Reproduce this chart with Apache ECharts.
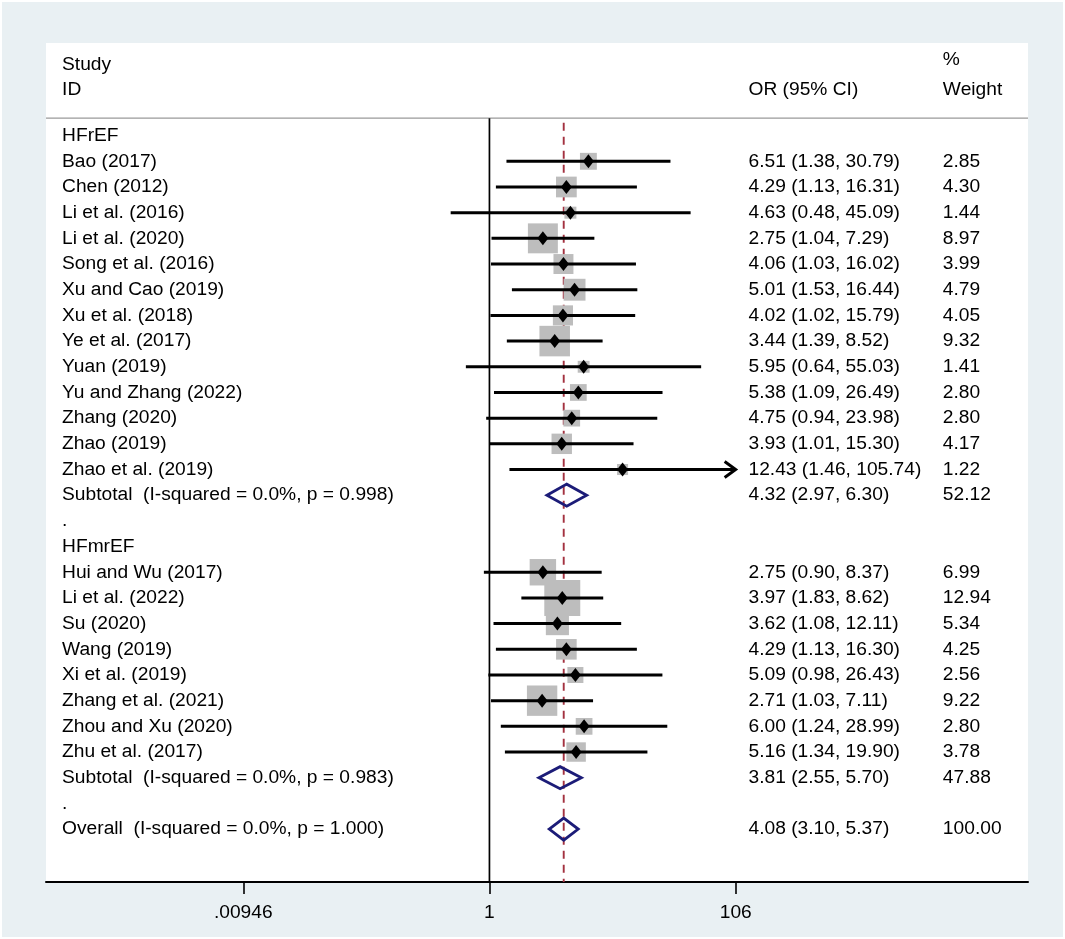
<!DOCTYPE html>
<html>
<head>
<meta charset="utf-8">
<script src="https://cdn.jsdelivr.net/npm/echarts@6/dist/echarts.min.js"></script>
<style>
html,body{margin:0;padding:0;background:#ffffff;}
#c{position:absolute;left:2px;top:2px;width:1061px;height:935px;}
</style>
</head>
<body>
<div id="c"></div>
<script>
// ---------------- DATA ----------------
const groupNames = ['HFrEF', 'HFmrEF'];

const hfrefNames = ['Bao (2017)', 'Chen (2012)', 'Li et al. (2016)', 'Li et al. (2020)', 'Song et al. (2016)',
  'Xu and Cao (2019)', 'Xu et al. (2018)', 'Ye et al. (2017)', 'Yuan (2019)', 'Yu and Zhang (2022)',
  'Zhang (2020)', 'Zhao (2019)', 'Zhao et al. (2019)'];
const hfrefOR     = [6.51, 4.29, 4.63, 2.75, 4.06, 5.01, 4.02, 3.44, 5.95, 5.38, 4.75, 3.93, 12.43];
const hfrefLower  = [1.38, 1.13, 0.48, 1.04, 1.03, 1.53, 1.02, 1.39, 0.64, 1.09, 0.94, 1.01, 1.46];
const hfrefUpper  = [30.79, 16.31, 45.09, 7.29, 16.02, 16.44, 15.79, 8.52, 55.03, 26.49, 23.98, 15.30, 105.74];
const hfrefWeight = [2.85, 4.30, 1.44, 8.97, 3.99, 4.79, 4.05, 9.32, 1.41, 2.80, 2.80, 4.17, 1.22];

const hfmrefNames = ['Hui and Wu (2017)', 'Li et al. (2022)', 'Su (2020)', 'Wang (2019)', 'Xi et al. (2019)',
  'Zhang et al. (2021)', 'Zhou and Xu (2020)', 'Zhu et al. (2017)'];
const hfmrefOR     = [2.75, 3.97, 3.62, 4.29, 5.09, 2.71, 6.00, 5.16];
const hfmrefLower  = [0.90, 1.83, 1.08, 1.13, 0.98, 1.03, 1.24, 1.34];
const hfmrefUpper  = [8.37, 8.62, 12.11, 16.30, 26.43, 7.11, 28.99, 19.90];
const hfmrefWeight = [6.99, 12.94, 5.34, 4.25, 2.56, 9.22, 2.80, 3.78];

const pooledLabels = ['Subtotal  (I-squared = 0.0%, p = 0.998)', 'Subtotal  (I-squared = 0.0%, p = 0.983)',
  'Overall  (I-squared = 0.0%, p = 1.000)'];
const pooledOR     = [4.32, 3.81, 4.08];
const pooledLower  = [2.97, 2.55, 3.10];
const pooledUpper  = [6.30, 5.70, 5.37];
const pooledWeight = [52.12, 47.88, 100.00];

const xTickValues = [0.00946, 1, 106];
const xTickLabels = ['.00946', '1', '106'];

const headerStudy  = ['Study', 'ID'];
const headerEffect = 'OR (95% CI)';
const headerWeight = ['%', 'Weight'];

// ---------------- LAYOUT (positions/styles) ----------------
const X_MIN = -3.646, X_MAX = 4.428;       // log10 axis extent
const Y_MIN = -3.606, Y_MAX = 29.06;       // row axis extent
const COL_STUDY = -3.514, COL_OR = 2.13, COL_W = 3.728;   // column anchors in axis units
const STUDY_ROW1 = -2.75, PCT_ROW1 = -2.94, HEAD_ROW2 = -1.8, HEAD_LINE = -0.68;
const FONT = '19.2px "Liberation Sans", Arial, sans-serif';
const L = Math.log10;

// ---------------- BUILD ROWS ----------------
const rows = [];
function addGroup(gName, names, ors, los, his, ws, pIdx) {
  rows.push({ label: gName, kind: 'head' });
  names.forEach((n, i) => rows.push({ label: n, kind: 'study', or: ors[i], lo: los[i], hi: his[i], w: ws[i] }));
  rows.push({ label: pooledLabels[pIdx], kind: 'pooled', or: pooledOR[pIdx], lo: pooledLower[pIdx], hi: pooledUpper[pIdx], w: pooledWeight[pIdx] });
  rows.push({ label: '.', kind: 'dot' });
}
addGroup(groupNames[0], hfrefNames, hfrefOR, hfrefLower, hfrefUpper, hfrefWeight, 0);
addGroup(groupNames[1], hfmrefNames, hfmrefOR, hfmrefLower, hfmrefUpper, hfmrefWeight, 1);
rows.push({ label: pooledLabels[2], kind: 'pooled', or: pooledOR[2], lo: pooledLower[2], hi: pooledUpper[2], w: pooledWeight[2] });

const overallLog = L(pooledOR[2]);

const texts = [];
headerStudy.forEach((t, i) => texts.push({ x: COL_STUDY, y: i === 0 ? STUDY_ROW1 : HEAD_ROW2, t }));
texts.push({ x: COL_OR, y: HEAD_ROW2, t: headerEffect });
headerWeight.forEach((t, i) => texts.push({ x: COL_W, y: i === 0 ? PCT_ROW1 : HEAD_ROW2, t }));
rows.forEach((r, i) => {
  texts.push({ x: COL_STUDY, y: i, t: r.label });
  if (r.kind === 'study' || r.kind === 'pooled') {
    texts.push({ x: COL_OR, y: i, t: r.or.toFixed(2) + ' (' + r.lo.toFixed(2) + ', ' + r.hi.toFixed(2) + ')' });
    texts.push({ x: COL_W, y: i, t: r.w.toFixed(2) });
  }
});

const studyRows = [], pooledRows = [];
rows.forEach((r, i) => {
  if (r.kind === 'study') studyRows.push({ i, r });
  if (r.kind === 'pooled') pooledRows.push({ i, r });
});

// ---------------- CHART ----------------
const chart = echarts.init(document.getElementById('c'), null, { renderer: 'canvas' });

const option = {
  animation: false,
  backgroundColor: '#e9f0f3',
  grid: { left: 44, top: 41, right: 35, bottom: 55, show: true, backgroundColor: '#ffffff', borderWidth: 0 },
  xAxis: {
    type: 'value', min: X_MIN, max: X_MAX,
    axisLine: { show: true, onZero: false, lineStyle: { color: '#000', width: 2 } },
    axisTick: { show: true, inside: false, length: 12, customValues: xTickValues.map(L), lineStyle: { color: '#000', width: 1.6 } },
    axisLabel: {
      show: true, margin: 21, customValues: xTickValues.map(L), color: '#000',
      fontSize: 19.2, fontFamily: '"Liberation Sans", Arial, sans-serif',
      formatter: function (v) {
        let best = 0, d = Infinity;
        xTickValues.forEach((tv, k) => { const dd = Math.abs(L(tv) - v); if (dd < d) { d = dd; best = k; } });
        return xTickLabels[best];
      }
    },
    splitLine: { show: false }
  },
  yAxis: { type: 'value', min: Y_MIN, max: Y_MAX, inverse: true, show: false },
  series: [
    { type: 'line', z: 1, silent: true, symbol: 'none', data: [[X_MIN, HEAD_LINE], [X_MAX, HEAD_LINE]],
      lineStyle: { color: '#9a9a9a', width: 1.2 } },
    { type: 'line', z: 1, silent: true, symbol: 'none', data: [[L(1), HEAD_LINE], [L(1), Y_MAX]],
      lineStyle: { color: '#000', width: 1.7 } },
    { type: 'line', z: 1, silent: true, symbol: 'none', data: [[overallLog, -0.5], [overallLog, Y_MAX]],
      lineStyle: { color: '#a3313f', width: 1.9, type: [8, 6] } },
    { type: 'scatter', z: 2, silent: true, symbol: 'rect',
      data: studyRows.map(o => ({ value: [L(o.r.or), o.i], symbolSize: 10 * Math.sqrt(o.r.w) })),
      itemStyle: { color: '#bdbdbd', opacity: 1 } },
    { type: 'custom', z: 3, silent: true,
      data: studyRows.map(o => [L(o.r.lo), L(o.r.hi), o.i, o.r.hi >= 100 ? 1 : 0]),
      renderItem: function (params, api) {
        const a = api.coord([api.value(0), api.value(2)]);
        const b = api.coord([api.value(1), api.value(2)]);
        const children = [{ type: 'line', shape: { x1: a[0], y1: a[1], x2: b[0], y2: b[1] }, style: { stroke: '#000', lineWidth: 3 } }];
        if (api.value(3) === 1) {
          children.push({ type: 'polyline', shape: { points: [[b[0] - 11, b[1] - 8], [b[0], b[1]], [b[0] - 11, b[1] + 8]] },
            style: { stroke: '#000', lineWidth: 3, fill: null } });
        }
        return { type: 'group', children };
      } },
    { type: 'scatter', z: 4, silent: true, symbol: 'diamond', symbolSize: [11, 14],
      data: studyRows.map(o => [L(o.r.or), o.i]), itemStyle: { color: '#000', opacity: 1 } },
    { type: 'custom', z: 4, silent: true,
      data: pooledRows.map(o => [L(o.r.lo), L(o.r.or), L(o.r.hi), o.i]),
      renderItem: function (params, api) {
        const r = api.value(3);
        const p1 = api.coord([api.value(0), r]);
        const p2 = api.coord([api.value(1), r - 0.43]);
        const p3 = api.coord([api.value(2), r]);
        const p4 = api.coord([api.value(1), r + 0.43]);
        return { type: 'polygon', shape: { points: [p1, p2, p3, p4] }, style: { stroke: '#1c1c78', lineWidth: 2.8, fill: null } };
      } },
    { type: 'custom', z: 5, silent: true,
      data: texts.map(t => [t.x, t.y]),
      renderItem: function (params, api) {
        const p = api.coord([api.value(0), api.value(1)]);
        return { type: 'text', x: p[0], y: p[1],
          style: { text: texts[params.dataIndex].t, fill: '#000', font: FONT, align: 'left', verticalAlign: 'middle' } };
      } }
  ]
};
chart.setOption(option);
</script>
</body>
</html>
